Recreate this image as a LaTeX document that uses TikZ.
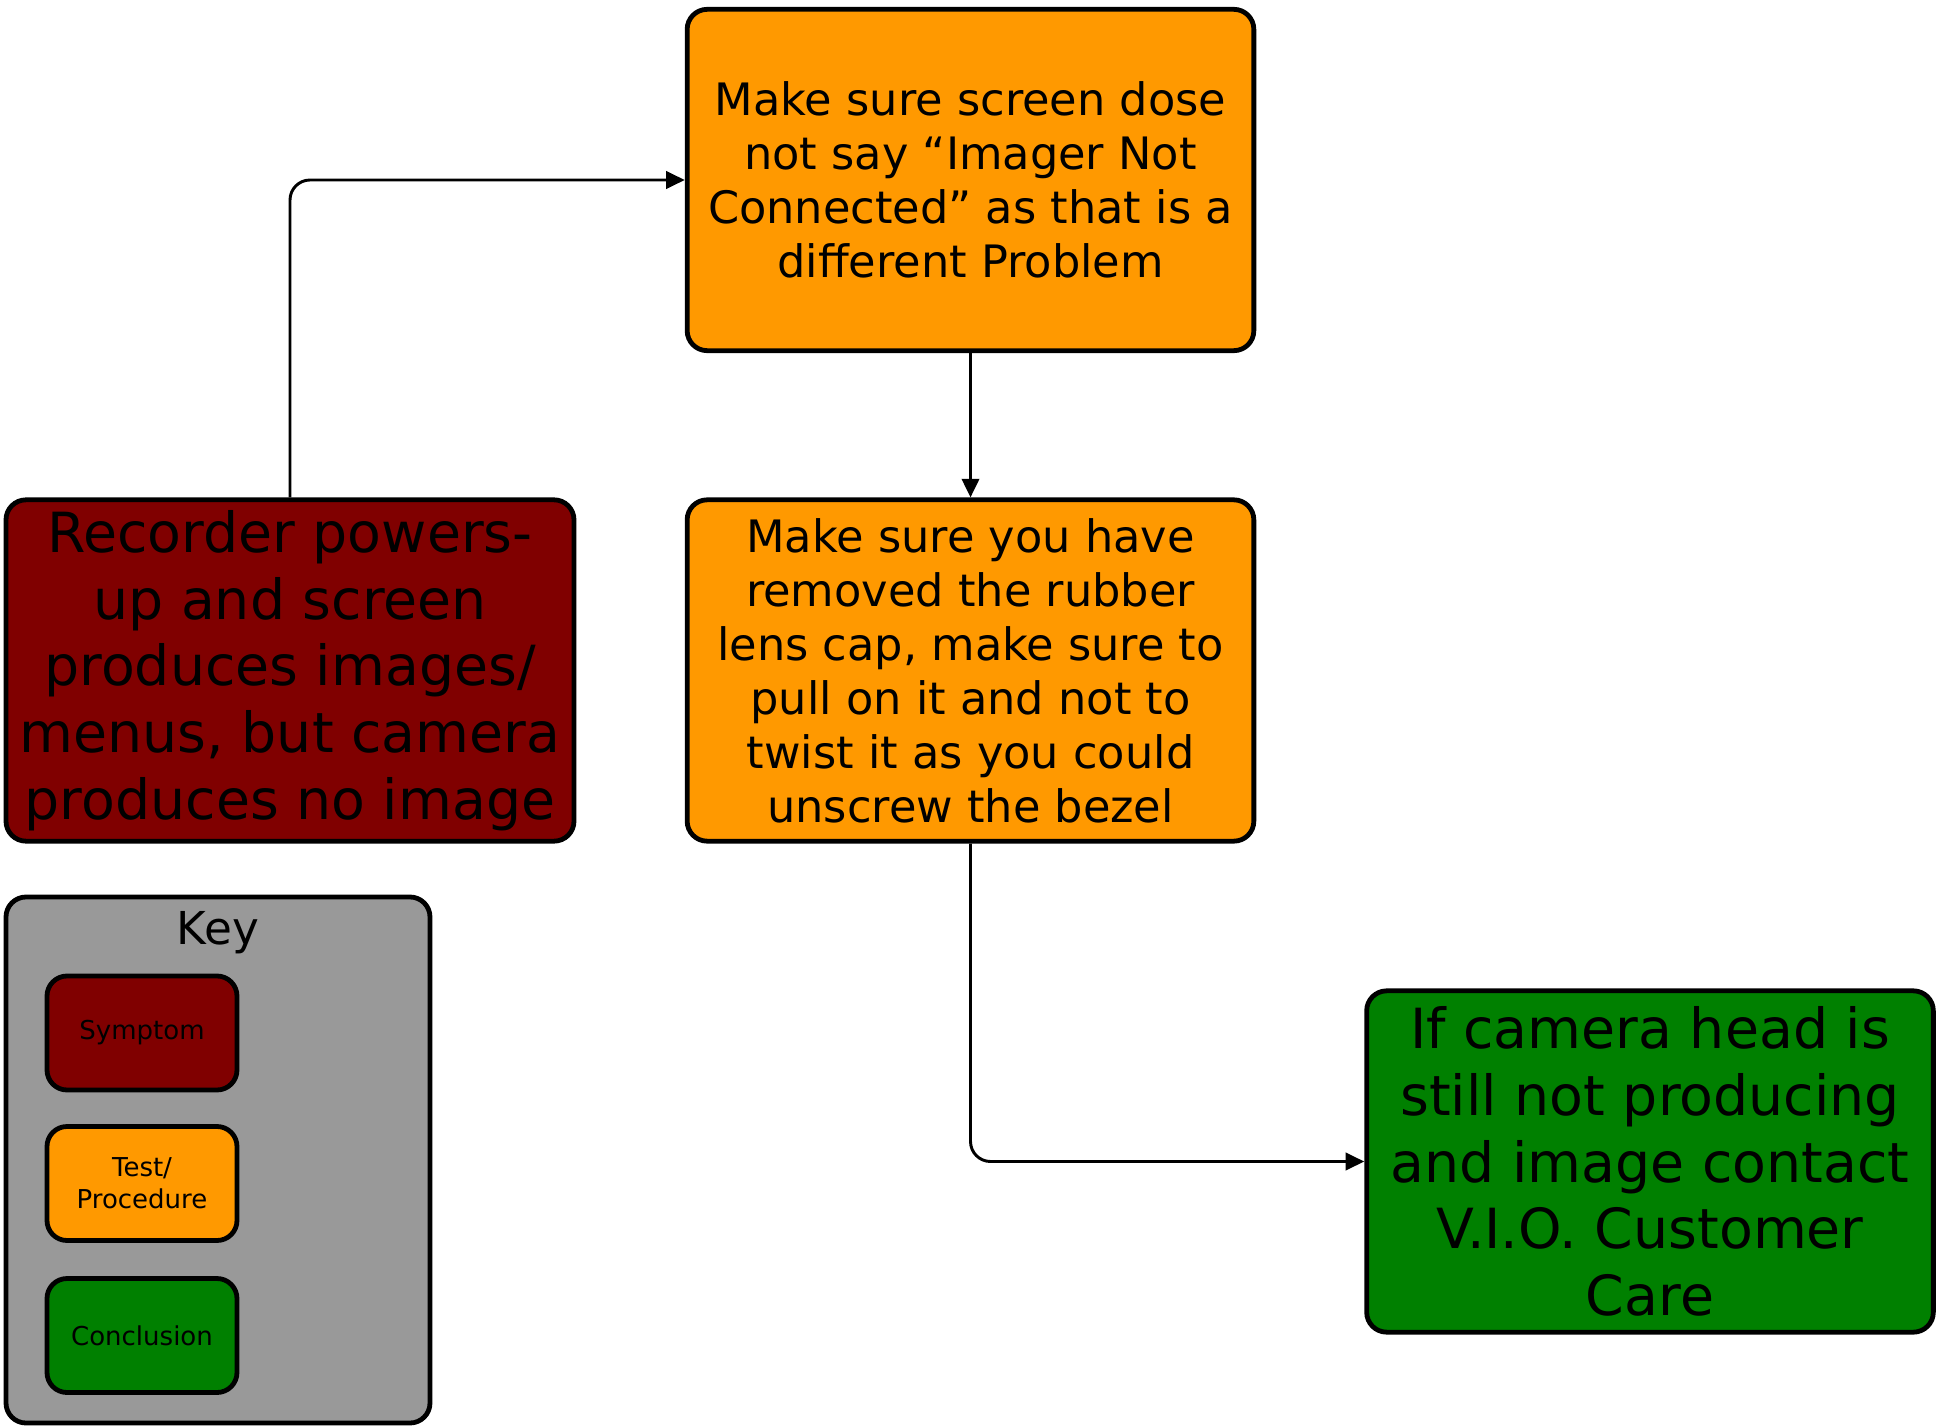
\documentclass[tikz,border=0pt]{standalone}
\usepackage{fontspec}
\setmainfont{DejaVu Sans}
\usetikzlibrary{arrows.meta}

\definecolor{symred}{HTML}{800000}
\definecolor{testorange}{HTML}{FF9900}
\definecolor{conclgreen}{HTML}{008000}
\definecolor{keygrey}{HTML}{999999}

\begin{document}
\begin{tikzpicture}[x=0.75pt, y=-0.75pt,
    box/.style = {draw, line width=3.6pt, rounded corners=15pt, align=center, inner sep=1pt},
    symptom/.style = {box, fill=symred, minimum width=426pt, minimum height=256pt, font=\fontsize{41.5}{50}\selectfont},
    test/.style = {box, fill=testorange, minimum width=425pt, minimum height=256pt, font=\fontsize{33.5}{40.5}\selectfont},
    concl/.style = {box, fill=conclgreen, minimum width=425pt, minimum height=256pt, font=\fontsize{41.5}{50}\selectfont},
    keyitem/.style = {box, minimum width=142.5pt, minimum height=85.5pt, font=\fontsize{19.5}{24}\selectfont},
    link/.style = {line width=2.2pt, rounded corners=15pt, -{Triangle[length=14pt,width=13pt]}}]
    \useasboundingbox (0,0) rectangle (1937,1426);

    % flow
    \node[test] (check) at (970.5,180) {Make sure screen dose\\not say “Imager Not\\Connected” as that is a\\different Problem};
    \node[symptom] (symp) at (290,670.5) {Recorder powers-\\up and screen\\produces images/\\menus, but camera\\produces no image};
    \node[test] (lens) at (970.5,670.5) {Make sure you have\\removed the rubber\\lens cap, make sure to\\pull on it and not to\\twist it as you could\\unscrew the bezel};
    \node[concl] (care) at (1650,1161.5) {If camera head is\\still not producing\\and image contact\\V.I.O. Customer\\Care};

    \draw[link] (symp.north) |- (check.west);
    \draw[link] (check.south) -- (lens.north);
    \draw[link] (lens.south) |- (care.west);

    % key
    \node[box, fill=keygrey, minimum width=318pt, minimum height=394.5pt] (keybox) at (218,1160) {};
    \node[font=\fontsize{34}{40}\selectfont] (keytitle) at (218,933) {Key};
    \node[keyitem, fill=symred] (keysymp) at (142,1033) {Symptom};
    \node[keyitem, fill=testorange] (keytest) at (142,1183.5) {Test/\\Procedure};
    \node[keyitem, fill=conclgreen] (keyconcl) at (142,1335.5) {Conclusion};
\end{tikzpicture}
\end{document}
